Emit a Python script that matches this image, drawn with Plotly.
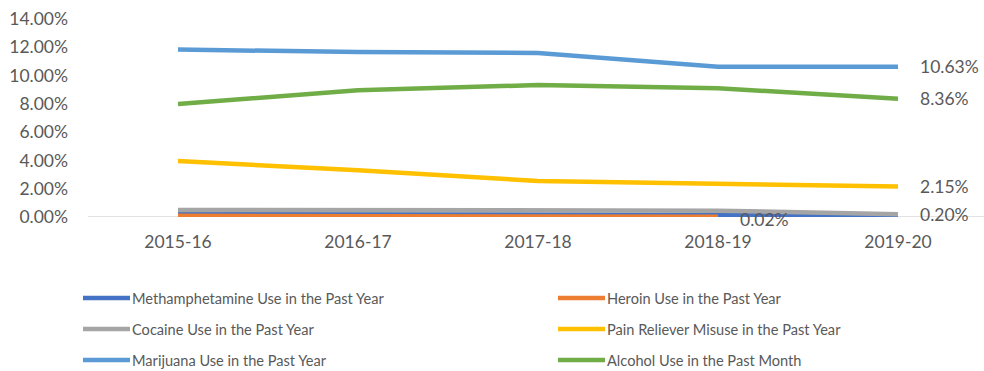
import plotly.graph_objects as go

# Survey years
years = ["2015-16", "2016-17", "2017-18", "2018-19", "2019-20"]

# Prevalence (%) per substance
meth = [0.20, 0.20, 0.20, 0.15, 0.10]
heroin = [0.08, 0.07, 0.06, 0.02, None]
cocaine = [0.50, 0.50, 0.50, 0.45, 0.20]
pain = [3.96, 3.30, 2.55, 2.35, 2.15]
marijuana = [11.84, 11.66, 11.60, 10.63, 10.63]
alcohol = [7.99, 8.97, 9.33, 9.10, 8.36]

names = [
    "Methamphetamine Use in the Past Year",
    "Heroin Use in the Past Year",
    "Cocaine Use in the Past Year",
    "Pain Reliever Misuse in the Past Year",
    "Marijuana Use in the Past Year",
    "Alcohol Use in the Past Month",
]
series = [meth, heroin, cocaine, pain, marijuana, alcohol]
colors = ["#4472C4", "#ED7D31", "#A5A5A5", "#FFC000", "#5B9BD5", "#70AD47"]

# Value labels: (series index, category index, text)
value_labels = [
    (4, 4, "10.63%"),
    (5, 4, "8.36%"),
    (3, 4, "2.15%"),
    (2, 4, "0.20%"),
    (1, 3, "0.02%"),
]

W, H = 984, 371
L, R, T, B = 88, 0, 19, 154
FONT = "Lato"
TXT = "#595959"

fig = go.Figure()
for name, vals, col in zip(names, series, colors):
    fig.add_trace(go.Scatter(
        x=years, y=vals, name=name, mode="lines",
        line=dict(color=col, width=4.5), showlegend=False,
        hoverinfo="x+y+name",
    ))

for si, ci, txt in value_labels:
    fig.add_annotation(
        x=years[ci], y=series[si][ci], text=txt, showarrow=False,
        xanchor="left", yanchor="middle", xshift=20,
        yshift=-3 if si == 1 else 0,
        font=dict(family=FONT, size=17.5, color=TXT),
    )

# Legend drawn as two columns of line swatches and labels
pw = W - L - R
ph = H - T - B
def px_x(px):
    return (px - L) / pw
def px_y(py):
    return (H - B - py) / ph

col_x = [83, 558]
row_y = [298, 329, 360]
for i, (name, col) in enumerate(zip(names, colors)):
    cx = col_x[i % 2]
    ry = row_y[i // 2]
    fig.add_shape(
        type="line", xref="paper", yref="paper",
        x0=px_x(cx), x1=px_x(cx + 47), y0=px_y(ry), y1=px_y(ry),
        line=dict(color=col, width=4.5),
    )
    fig.add_annotation(
        xref="paper", yref="paper", x=px_x(cx + 47), y=px_y(ry),
        text=name, showarrow=False, xanchor="left", yanchor="middle",
        font=dict(family=FONT, size=14.6, color=TXT),
    )

fig.update_layout(
    width=W, height=H,
    margin=dict(l=L, r=R, t=T, b=B),
    paper_bgcolor="white", plot_bgcolor="white",
    font=dict(family=FONT, size=17.5, color=TXT),
)
fig.update_xaxes(
    type="category", range=[-0.5, -0.5 + pw / 180.0],
    showgrid=False, showline=False, zeroline=False, ticks="",
    ticklabelstandoff=12,
    tickfont=dict(family=FONT, size=17.5, color=TXT),
)
fig.update_yaxes(
    range=[0, 14], dtick=2, tickformat=".2f", ticksuffix="%",
    showgrid=False, zeroline=False, showline=False, ticks="",
    ticklabelstandoff=19,
    tickfont=dict(family=FONT, size=17.5, color=TXT),
)
# Baseline along 0%
fig.add_shape(
    type="line", xref="paper", yref="y", x0=0, x1=1, y0=0, y1=0,
    line=dict(color="#D9D9D9", width=1.5), layer="below",
)

fig.write_html("out.html")
